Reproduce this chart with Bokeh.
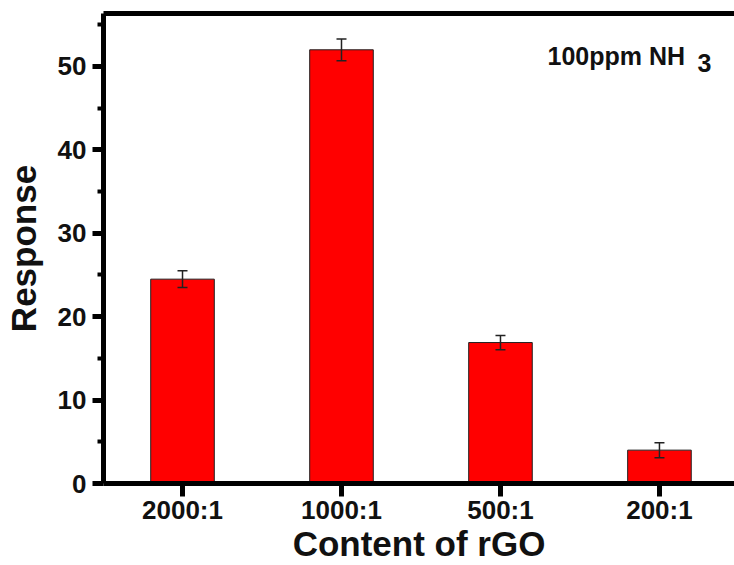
from bokeh.plotting import figure
from bokeh.models import (ColumnDataSource, Whisker, TeeHead, FixedTicker,
                          LinearAxis, Range1d, Label)
from bokeh.embed import file_html
from bokeh.resources import INLINE

categories = ["2000:1", "1000:1", "500:1", "200:1"]
response = [24.5, 52.0, 16.9, 4.0]
error = [1.0, 1.3, 0.85, 0.9]
y_ticks = [0, 10, 20, 30, 40, 50]
y_minor = [5, 15, 25, 35, 45, 55]

xs = list(range(1, len(categories) + 1))
src = ColumnDataSource(dict(
    x=xs, top=response,
    upper=[r + e for r, e in zip(response, error)],
    lower=[r - e for r, e in zip(response, error)],
))

FONT = "Liberation Sans"

p = figure(width=734, height=565, output_backend="svg", toolbar_location=None,
           x_range=Range1d(0.503, 4.472), y_range=Range1d(0, 56.35),
           min_border_left=100, min_border_right=0, min_border_top=13,
           min_border_bottom=82)
p.outline_line_color = None
p.grid.visible = False

p.vbar(x="x", top="top", bottom=0, width=0.4, source=src,
       fill_color="#ff0000", line_color="#222222", line_width=1)

head_kw = dict(size=10, line_color="#222222", line_width=1.5)
w = Whisker(base="x", upper="upper", lower="lower", source=src,
            line_color="#222222", line_width=1.5,
            upper_head=TeeHead(**head_kw), lower_head=TeeHead(**head_kw),
            level="annotation")
p.add_layout(w)

# x axis
xa = p.xaxis[0]
xa.ticker = FixedTicker(ticks=xs)
xa.major_label_overrides = {i: c for i, c in zip(xs, categories)}
xa.axis_label = "Content of rGO"

# y axis
ya = p.yaxis[0]
ya.ticker = FixedTicker(ticks=y_ticks, minor_ticks=y_minor)
ya.axis_label = "Response"

for ax in (xa, ya):
    ax.axis_line_width = 5
    ax.axis_line_color = "black"
    ax.major_tick_line_width = 5
    ax.major_tick_out = 11
    ax.major_tick_in = 0
    ax.major_label_text_font = FONT
    ax.major_label_text_font_style = "bold"
    ax.major_label_text_font_size = "26px"
    ax.major_label_text_color = "#111111"
    ax.axis_label_text_font = FONT
    ax.axis_label_text_font_style = "bold"
    ax.axis_label_text_font_size = "35px"
    ax.axis_label_text_color = "#111111"

xa.minor_tick_line_color = None
xa.major_tick_out = 13
xa.major_label_standoff = -2
xa.axis_label_standoff = -4
ya.minor_tick_line_width = 4
ya.minor_tick_out = 6
ya.minor_tick_in = 0
ya.major_label_standoff = 6
ya.axis_label_standoff = 12

top_axis = LinearAxis(ticker=FixedTicker(ticks=[]), axis_line_width=5,
                      axis_line_color="black", major_tick_line_color=None,
                      minor_tick_line_color=None,
                      major_label_text_font_size="0px")
p.add_layout(top_axis, "above")

p.add_layout(Label(x=3.296, y=51.3, text="100ppm NH", text_font=FONT,
                   text_font_style="bold", text_font_size="25px",
                   text_color="#111111", text_baseline="alphabetic"))
p.add_layout(Label(x=4.239, y=50.36, text="3", text_font=FONT,
                   text_font_style="bold", text_font_size="25px",
                   text_color="#111111", text_baseline="alphabetic"))

open("out.html", "w").write(file_html(p, INLINE))
